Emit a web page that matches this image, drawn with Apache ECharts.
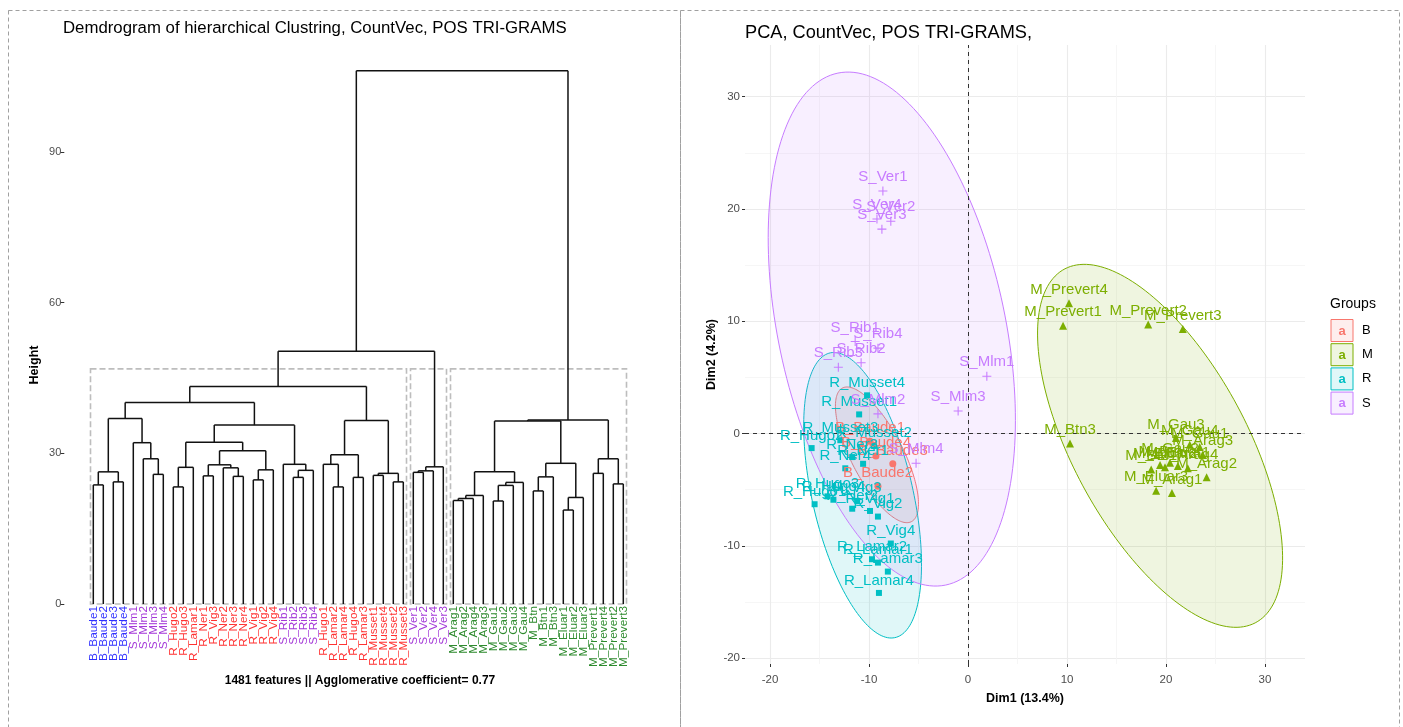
<!DOCTYPE html>
<html>
<head>
<meta charset="utf-8">
<script src="https://cdn.jsdelivr.net/npm/echarts@6/dist/echarts.min.js"></script>
<style>
  html, body { margin: 0; padding: 0; background: #fff; }
  #chart { width: 1403px; height: 727px; }
</style>
</head>
<body>
<div id="chart"></div>
<script>
const FONT = '"Liberation Sans", Arial, sans-serif'

// ---- dendrogram (left) ----
const LEAVES = [
  'B_Baude1', 'B_Baude2', 'B_Baude3', 'B_Baude4', 'S_Mlm1', 'S_Mlm2', 'S_Mlm3', 'S_Mlm4',
  'R_Hugo2', 'R_Hugo3', 'R_Lamar1', 'R_Ner1', 'R_Vig3', 'R_Ner2', 'R_Ner3', 'R_Ner4',
  'R_Vig1', 'R_Vig2', 'R_Vig4', 'S_Rib1', 'S_Rib2', 'S_Rib3', 'S_Rib4', 'R_Hugo1',
  'R_Lamar2', 'R_Lamar4', 'R_Hugo4', 'R_Lamar3', 'R_Musset1', 'R_Musset4', 'R_Musset2', 'R_Musset3',
  'S_Ver1', 'S_Ver2', 'S_Ver4', 'S_Ver3', 'M_Arag1', 'M_Arag2', 'M_Arag4', 'M_Arag3',
  'M_Gau1', 'M_Gau2', 'M_Gau3', 'M_Gau4', 'M_Btn', 'M_Btn1', 'M_Btn3', 'M_Eluar1',
  'M_Eluar2', 'M_Eluar3', 'M_Prevert1', 'M_Prevert4', 'M_Prevert2', 'M_Prevert3',
]
// merges [left, right, height]; plain numbers are leaf indices
const T_B = [[0, 1, 23.7], [2, 3, 24.3], 26.3]
const T_MLM = [4, [5, [6, 7, 25.8], 28.9], 32.1]
const T_R1 = [[8, 9, 23.3], 10, 27.2]
const T_NER = [[11, 12, 25.5], [13, [14, 15, 25.4], 27.1], 27.7]
const T_VIG = [[16, 17, 24.7], 18, 26.7]
const T_RIB = [19, [[20, 21, 25.2], 22, 26.6], 27.8]
const T_R2 = [[[23, [24, 25, 23.3], 27.8], [26, 27, 25.2], 29.7], [[28, 29, 25.6], [30, 31, 24.3], 26.0], 36.5]
const T_VER = [[[32, 33, 26.2], 34, 26.5], 35, 27.3]
const T_ARAG = [[[36, 37, 20.6], 38, 21.0], 39, 21.6]
const T_GAU = [[[40, 41, 20.5], 42, 23.6], 43, 24.2]
const T_BTN = [[44, 45, 22.5], 46, 25.3]
const T_ELUAR = [[47, 48, 18.7], 49, 21.2]
const T_PREV = [[50, 51, 26.0], [52, 53, 23.9], 28.9]
const T_LEFT = [[T_B, T_MLM, 36.9], [[T_R1, [T_NER, T_VIG, 30.5], 32.2], T_RIB, 35.6], 40.1]
const T_M = [[[T_ARAG, T_GAU, 26.3], [T_BTN, T_ELUAR, 28.0], 36.4], T_PREV, 36.6]
const TREE = [[[T_LEFT, T_R2, 43.3], T_VER, 50.3], T_M, 106.1]
const CUT_CLUSTERS = [[0, 31], [32, 35], [36, 53]]
const CUT_HEIGHT = 46.8
const HEIGHT_TICKS = [0, 30, 60, 90]
const LEAF_COLORS = { B: '#3030FF', S: '#A338D8', R: '#FF3333', M: '#2E8B2E' }

// ---- PCA (right) ----
const GROUPS = ['B', 'M', 'R', 'S']
const GROUP_COLORS = ['#F8766D', '#7CAE00', '#00BFC4', '#C77CFF']
const GROUP_SYMBOLS = ['circle', 'triangle', 'rect', 'path://M4.4,0h1.2v4.4h4.4v1.2h-4.4v4.4h-1.2v-4.4h-4.4v-1.2h4.4z']
const GROUP_SYMBOL_SIZES = [7, 8, 6, 9]
const PCA_B = [
  ['B_Baude1', -9.9, -0.7], ['B_Baude4', -9.3, -2.0], ['B_Baude3', -7.6, -2.7], ['B_Baude2', -9.1, -4.7],
]
const PCA_M = [
  ['M_Prevert4', 10.2, 11.6], ['M_Prevert1', 9.6, 9.6], ['M_Prevert2', 18.2, 9.7], ['M_Prevert3', 21.7, 9.3],
  ['M_Btn3', 10.3, -0.9], ['M_Gau3', 21.0, -0.4], ['M_Gau4', 22.4, -1.0], ['M_Gau1', 23.4, -1.2],
  ['M_Arag3', 23.7, -1.9], ['M_Gau2', 20.4, -2.6], ['M_Btn', 19.4, -2.8], ['M_Eluar1', 21.2, -2.9],
  ['M_Eluar2', 19.9, -3.0], ['M_Arag4', 22.2, -3.1], ['M_Btn1', 18.5, -3.2], ['M_Arag2', 24.1, -3.9],
  ['M_Eluar3', 19.0, -5.1], ['M_Arag1', 20.6, -5.3],
]
const PCA_R = [
  ['R_Musset4', -10.2, 3.4], ['R_Musset1', -11.0, 1.7], ['R_Musset3', -12.9, -0.6], ['R_Musset2', -9.5, -1.1],
  ['R_Hugo2', -15.8, -1.3], ['R_Ner3', -11.7, -2.1], ['R_Ner1', -10.6, -2.7], ['R_Ner4', -12.4, -3.1],
  ['R_Hugo3', -14.2, -5.6], ['R_Hugo4', -13.6, -5.9], ['R_Vig3', -11.2, -6.0], ['R_Hugo1', -15.5, -6.3],
  ['R_Ner2', -11.7, -6.7], ['R_Vig1', -9.9, -6.9], ['R_Vig2', -9.1, -7.4], ['R_Vig4', -7.8, -9.8],
  ['R_Lamar2', -9.7, -11.2], ['R_Lamar1', -9.1, -11.5], ['R_Lamar3', -8.1, -12.3], ['R_Lamar4', -9.0, -14.2],
]
const PCA_S = [
  ['S_Ver1', -8.6, 21.6], ['S_Ver4', -9.2, 19.1], ['S_Ver2', -7.8, 18.9], ['S_Ver3', -8.7, 18.2],
  ['S_Rib1', -11.4, 8.2], ['S_Rib4', -9.1, 7.6], ['S_Rib2', -10.8, 6.3], ['S_Rib3', -13.1, 5.9],
  ['S_Mlm1', 1.9, 5.1], ['S_Mlm3', -1.0, 2.0], ['S_Mlm2', -9.1, 1.75], ['S_Mlm4', -5.25, -2.65],
]
const PCA_POINTS = [PCA_B, PCA_M, PCA_R, PCA_S]
// concentration ellipses per group: [centre x, centre y, semi-major, semi-minor, angle in degrees]
const ELLIPSES = [
  [-9.2, -1.9, 6.9, 2.55, 121.3],
  [19.4, -1.1, 18.5, 8.5, 123.2],
  [-10.65, -5.5, 13.1, 5.05, 105.1],
  [-7.7, 9.3, 23.45, 11.4, 104.4],
]
const X_TICKS = [-20, -10, 0, 10, 20, 30]
const X_MINOR = [-15, -5, 5, 15, 25]
const Y_TICKS = [-20, -10, 0, 10, 20, 30]
const Y_MINOR = [-15, -5, 5, 15, 25]

// dendrogram → segments through the axis scales
const segs = []
function walk(n) {
  if (typeof n === 'number') return { x: n, h: 0 }
  const l = walk(n[0]), r = walk(n[1]), h = n[2]
  segs.push([l.x, l.h, l.x, h], [r.x, r.h, r.x, h], [l.x, h, r.x, h])
  return { x: (l.x + r.x) / 2, h }
}
walk(TREE)

const alpha = (hex, a) => {
  const v = parseInt(hex.slice(1), 16)
  return `rgba(${v >> 16},${(v >> 8) & 255},${v & 255},${a})`
}

const chart = echarts.init(document.getElementById('chart'))
const axisGray = '#4D4D4D'
const noLine = { show: false, onZero: false }

chart.setOption({
  backgroundColor: '#fff',
  animation: false,
  textStyle: { fontFamily: FONT },
  title: [
    { text: 'Demdrogram of hierarchical Clustring, CountVec, POS TRI-GRAMS', left: 63, top: 20, padding: 0,
      textStyle: { fontSize: 16.8, fontWeight: 'normal', color: '#000', fontFamily: FONT } },
    { text: 'PCA, CountVec, POS TRI-GRAMS,', left: 745, top: 24, padding: 0,
      textStyle: { fontSize: 18.2, fontWeight: 'normal', color: '#000', fontFamily: FONT } },
    { text: '1481 features || Agglomerative coefficient= 0.77', left: 360, top: 675, textAlign: 'center', padding: 0,
      textStyle: { fontSize: 12, fontWeight: 'bold', color: '#000', fontFamily: FONT } },
  ],
  grid: [
    { left: 88.3, top: 51.25, width: 540, height: 552.75 },
    { left: 745, top: 45, width: 560, height: 619 },
  ],
  xAxis: [
    { gridIndex: 0, type: 'value', min: -0.5, max: 53.5, show: false },
    { gridIndex: 0, type: 'category', data: LEAVES, boundaryGap: true, position: 'bottom',
      axisLine: noLine, axisTick: { show: false }, splitLine: { show: false },
      axisLabel: { rotate: 90, interval: 0, margin: 2, fontSize: 11.8, fontFamily: FONT,
        color: v => LEAF_COLORS[v[0]] } },
    { gridIndex: 1, type: 'value', min: -22.53, max: 34.04,
      name: 'Dim1 (13.4%)', nameLocation: 'middle', nameGap: 28,
      nameTextStyle: { fontSize: 12.5, fontWeight: 'bold', color: '#000', fontFamily: FONT },
      axisLine: noLine,
      axisTick: { show: true, length: 3, lineStyle: { color: '#333' }, customValues: X_TICKS },
      axisLabel: { customValues: X_TICKS, color: axisGray, fontSize: 11.5, margin: 10, fontFamily: FONT },
      splitLine: { show: true, lineStyle: { color: '#EBEBEB', width: 1.1 } } },
    { gridIndex: 1, type: 'value', min: -22.53, max: 34.04, position: 'top',
      axisLine: noLine, axisTick: { show: false, customValues: X_MINOR }, axisLabel: { show: false },
      splitLine: { show: true, lineStyle: { color: '#F4F4F4', width: 0.8 } } },
  ],
  yAxis: [
    { gridIndex: 0, type: 'value', min: 0, max: 110, offset: 24,
      axisLine: noLine,
      axisTick: { show: true, length: 4, lineStyle: { color: '#333' }, customValues: HEIGHT_TICKS },
      axisLabel: { customValues: HEIGHT_TICKS, color: axisGray, fontSize: 11, margin: 3, fontFamily: FONT },
      splitLine: { show: false } },
    { gridIndex: 1, type: 'value', min: -20.53, max: 34.6,
      name: 'Dim2 (4.2%)', nameLocation: 'middle', nameGap: 27,
      nameTextStyle: { fontSize: 12.5, fontWeight: 'bold', color: '#000', fontFamily: FONT },
      axisLine: noLine,
      axisTick: { show: true, length: 3, lineStyle: { color: '#333' }, customValues: Y_TICKS },
      axisLabel: { customValues: Y_TICKS, color: axisGray, fontSize: 11.5, margin: 5, fontFamily: FONT },
      splitLine: { show: true, lineStyle: { color: '#EBEBEB', width: 1.1 } } },
    { gridIndex: 1, type: 'value', min: -20.53, max: 34.6, position: 'right',
      axisLine: noLine, axisTick: { show: false, customValues: Y_MINOR }, axisLabel: { show: false },
      splitLine: { show: true, lineStyle: { color: '#F4F4F4', width: 0.8 } } },
  ],
  series: [
    {
      type: 'custom', name: 'cut', xAxisIndex: 0, yAxisIndex: 0, silent: true, z: 1,
      data: CUT_CLUSTERS.map(c => [c[0], c[1], CUT_HEIGHT]),
      encode: { x: [0, 1], y: 2 },
      renderItem: (p, api) => {
        const a = api.coord([api.value(0) - 0.28, api.value(2)])
        const b = api.coord([api.value(1) + 0.32, 0])
        return { type: 'rect', shape: { x: a[0], y: a[1], width: b[0] - a[0], height: b[1] - a[1] },
          style: { fill: 'none', stroke: '#BDBDBD', lineWidth: 1.6, lineDash: [6, 3] } }
      },
    },
    {
      type: 'custom', name: 'dendrogram', xAxisIndex: 0, yAxisIndex: 0, silent: true, z: 2,
      data: segs, encode: { x: [0, 2], y: [1, 3] },
      renderItem: (p, api) => {
        const a = api.coord([api.value(0), api.value(1)])
        const b = api.coord([api.value(2), api.value(3)])
        return { type: 'line', shape: { x1: a[0], y1: a[1], x2: b[0], y2: b[1] },
          style: { stroke: '#111', lineWidth: 1.5 } }
      },
    },
    {
      type: 'custom', name: 'ellipses', xAxisIndex: 2, yAxisIndex: 1, silent: true, z: 1,
      data: ELLIPSES.map(e => [e[0], e[1]]), encode: { x: 0, y: 1 },
      renderItem: (p, api) => {
        const [cx, cy, a, b, deg] = ELLIPSES[p.dataIndex]
        const t = deg * Math.PI / 180
        const pts = []
        for (let k = 0; k < 180; k++) {
          const f = k / 180 * 2 * Math.PI
          const dx = a * Math.cos(f), dy = b * Math.sin(f)
          pts.push(api.coord([cx + dx * Math.cos(t) - dy * Math.sin(t), cy + dx * Math.sin(t) + dy * Math.cos(t)]))
        }
        const col = GROUP_COLORS[p.dataIndex]
        return { type: 'polygon', shape: { points: pts }, style: { fill: alpha(col, 0.12), stroke: col, lineWidth: 1 } }
      },
    },
    ...GROUPS.map((g, gi) => ({
      type: 'scatter', name: g, xAxisIndex: 2, yAxisIndex: 1, z: 4,
      symbol: GROUP_SYMBOLS[gi], symbolSize: GROUP_SYMBOL_SIZES[gi],
      itemStyle: { color: GROUP_COLORS[gi], opacity: 1 },
      data: PCA_POINTS[gi].map(r => ({ name: r[0], value: [r[1], r[2]] })),
      label: { show: true, position: 'top', distance: 2, formatter: '{b}', color: GROUP_COLORS[gi],
        fontSize: 15, fontFamily: FONT },
      markLine: gi === 0 ? {
        silent: true, symbol: ['none', 'none'], label: { show: false }, z: 3,
        lineStyle: { color: '#333', type: [4, 4], width: 1 },
        data: [{ xAxis: 0 }, { yAxis: 0 }],
      } : undefined,
    })),
  ],
  graphic: [
    { type: 'rect', shape: { x: 8.5, y: 10.5, width: 672, height: 730 }, silent: true,
      style: { fill: 'none', stroke: '#A0A0A0', lineDash: [4, 3], lineWidth: 1 } },
    { type: 'rect', shape: { x: 680.5, y: 10.5, width: 719, height: 730 }, silent: true,
      style: { fill: 'none', stroke: '#A0A0A0', lineDash: [4, 3], lineWidth: 1 } },
    { type: 'text', x: 35, y: 365, rotation: Math.PI / 2, silent: true,
      style: { text: 'Height', fill: '#000', font: `bold 12.5px ${FONT}`, align: 'center', verticalAlign: 'middle' } },
    { type: 'text', x: 1330, y: 304, silent: true,
      style: { text: 'Groups', fill: '#000', font: `14px ${FONT}`, align: 'left', verticalAlign: 'middle' } },
    ...GROUPS.flatMap((g, gi) => {
      const y = 330.5 + gi * 24.2
      return [
        { type: 'rect', shape: { x: 1331, y: y - 11, width: 22, height: 22 }, silent: true,
          style: { fill: alpha(GROUP_COLORS[gi], 0.12), stroke: GROUP_COLORS[gi], lineWidth: 1 } },
        { type: 'text', x: 1342, y: y + 0.5, silent: true,
          style: { text: 'a', fill: GROUP_COLORS[gi], font: `bold 13px ${FONT}`, align: 'center', verticalAlign: 'middle' } },
        { type: 'text', x: 1362, y, silent: true,
          style: { text: g, fill: '#000', font: `13px ${FONT}`, align: 'left', verticalAlign: 'middle' } },
      ]
    }),
  ],
})
</script>
</body>
</html>
